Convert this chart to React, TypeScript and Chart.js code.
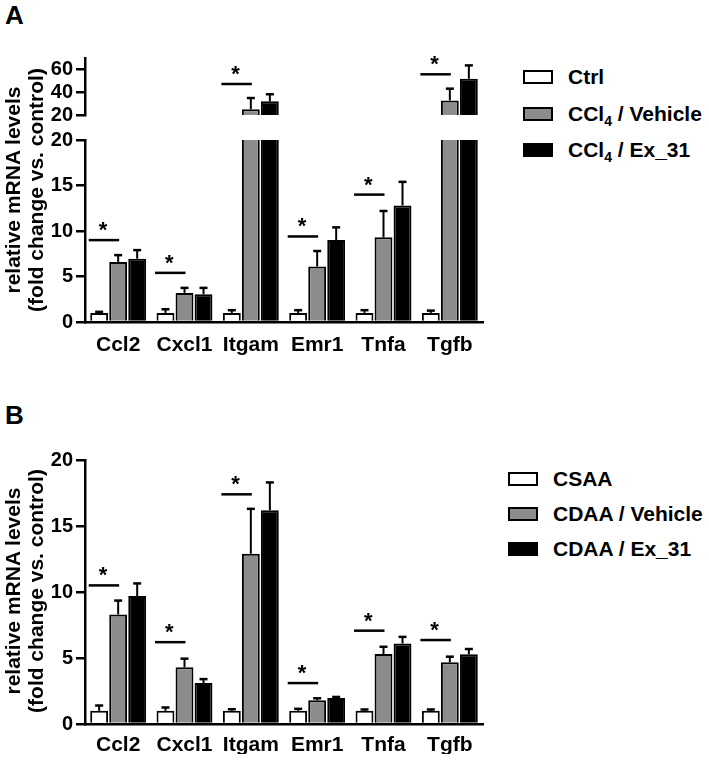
import React, { useEffect, useRef } from 'react';
import { Chart, registerables } from 'chart.js';

Chart.register(...registerables);

const FONT = 'Arial, "Liberation Sans", Helvetica, sans-serif';

// ---------- data ----------
const categories = ['Ccl2', 'Cxcl1', 'Itgam', 'Emr1', 'Tnfa', 'Tgfb'];

// Panel A (CCl4 model)
const ctrlA = [1.0, 1.0, 1.0, 1.0, 1.0, 1.0];
const ctrlAErr = [0.12, 0.4, 0.3, 0.3, 0.3, 0.25];
const vehA = [6.6, 3.2, 25.1, 6.1, 9.3, 32.8];
const vehAErr = [0.75, 0.55, 9.8, 1.7, 2.9, 10.3];
const exA = [6.95, 3.05, 32.0, 9.0, 12.8, 51.8];
const exAErr = [0.95, 0.7, 6.2, 1.4, 2.6, 11.7];
const sigA = [9.0, 5.4, 47.2, 9.4, 14.0, 55.7];

// Panel B (CDAA model)
const ctrlB = [1.0, 1.0, 1.0, 1.0, 1.0, 1.0];
const ctrlBErr = [0.4, 0.25, 0.12, 0.15, 0.1, 0.1];
const vehB = [8.3, 4.3, 12.9, 1.8, 5.3, 4.67];
const vehBErr = [1.05, 0.65, 3.4, 0.15, 0.55, 0.43];
const exB = [9.7, 3.1, 16.2, 1.97, 6.1, 5.28];
const exBErr = [0.95, 0.3, 2.1, 0.08, 0.5, 0.4];
const sigB = [10.5, 6.2, 17.4, 3.1, 7.07, 6.36];

const upperTicksA = [20, 40, 60];
const lowerTicks = [0, 5, 10, 15, 20];

const CAT_PCT = 0.86;
const BAR_PCT = 0.94;
const GRAY = '#8c8c8c';

// ---------- plugin: error bars + significance marks ----------
const errorSigPlugin = {
  id: 'errorSig',
  afterDatasetsDraw(chart: any, _args: any, opts: any) {
    const ctx = chart.ctx;
    const y = chart.scales.y;
    const x = chart.scales.x;
    ctx.save();
    ctx.strokeStyle = '#000';
    ctx.lineCap = 'butt';
    chart.data.datasets.forEach((ds: any, i: number) => {
      const meta = chart.getDatasetMeta(i);
      meta.data.forEach((el: any, j: number) => {
        const v = ds.data[j];
        if (v == null || v > y.max || v < y.min) return;
        const e = ds.errors[j];
        const top = y.getPixelForValue(v + e);
        const bx = el.x;
        ctx.lineWidth = 2;
        ctx.beginPath();
        ctx.moveTo(bx, el.y);
        ctx.lineTo(bx, top);
        ctx.stroke();
        ctx.lineWidth = 2.5;
        ctx.beginPath();
        ctx.moveTo(bx - 4, top);
        ctx.lineTo(bx + 4, top);
        ctx.stroke();
      });
    });
    const sig: (number | null)[] = opts.sig || [];
    const cw = x.width / categories.length;
    const slot = (cw * CAT_PCT) / 3;
    sig.forEach((s, j) => {
      if (s == null || s < y.min || s > y.max) return;
      const yy = y.getPixelForValue(s);
      const c = x.getPixelForValue(j);
      const x0 = c - 1.5 * slot + (slot * (1 - BAR_PCT)) / 2 - 1.5;
      const x1 = c + 1;
      ctx.lineWidth = 2.5;
      ctx.beginPath();
      ctx.moveTo(x0, yy);
      ctx.lineTo(x1, yy);
      ctx.stroke();
      ctx.fillStyle = '#000';
      ctx.font = `bold 22px ${FONT}`;
      ctx.textAlign = 'center';
      ctx.textBaseline = 'alphabetic';
      ctx.fillText('*', (x0 + x1) / 2 - 1, yy - 3);
    });
    ctx.restore();
  },
};

type ChartSpec = {
  ctrl: (number | null)[];
  veh: (number | null)[];
  ex: (number | null)[];
  ctrlErr: number[];
  vehErr: number[];
  exErr: number[];
  sig: (number | null)[];
  min: number;
  max: number;
  ticks: number[];
  showX: boolean;
  xHeight: number;
  xPad: number;
  padding: { top: number; bottom: number; left: number; right: number };
};

function makeConfig(s: ChartSpec): any {
  const font = { family: FONT, size: 21, weight: 'bold' as const };
  return {
    type: 'bar',
    data: {
      labels: categories,
      datasets: [
        { data: s.ctrl, errors: s.ctrlErr, backgroundColor: '#ffffff', borderColor: '#000', borderWidth: 2 },
        { data: s.veh, errors: s.vehErr, backgroundColor: GRAY, borderColor: '#000', borderWidth: 2 },
        { data: s.ex, errors: s.exErr, backgroundColor: '#000', borderColor: '#000', borderWidth: 2 },
      ],
    },
    options: {
      animation: false,
      responsive: false,
      maintainAspectRatio: false,
      layout: { padding: s.padding },
      datasets: { bar: { categoryPercentage: CAT_PCT, barPercentage: BAR_PCT, clip: 0 } },
      plugins: {
        legend: { display: false },
        tooltip: { enabled: false },
        title: { display: false },
        errorSig: { sig: s.sig },
      },
      scales: {
        x: {
          display: s.showX,
          grid: { display: false, drawTicks: false },
          border: { display: true, color: '#000', width: 2.5 },
          ticks: { font, color: '#000', padding: s.xPad, maxRotation: 0, autoSkip: false },
          afterFit: (sc: any) => {
            sc.height = s.xHeight;
          },
        },
        y: {
          min: s.min,
          max: s.max,
          afterBuildTicks: (sc: any) => {
            sc.ticks = s.ticks.map((v) => ({ value: v }));
          },
          grid: { display: true, drawOnChartArea: false, color: '#000', lineWidth: 2.5, tickLength: 9 },
          border: { display: true, color: '#000', width: 2.5 },
          ticks: { font: { ...font, size: 20 }, color: '#000', padding: 3 },
          afterFit: (sc: any) => {
            sc.width = 40;
          },
        },
      },
    },
    plugins: [errorSigPlugin],
  };
}

function ChartCanvas({ spec, left, top, width, height }: { spec: ChartSpec; left: number; top: number; width: number; height: number }) {
  const ref = useRef<HTMLCanvasElement | null>(null);
  useEffect(() => {
    if (!ref.current) return;
    const chart = new Chart(ref.current, makeConfig(spec));
    return () => chart.destroy();
  }, []);
  return <canvas ref={ref} width={width} height={height} style={{ position: 'absolute', left, top, width, height }} />;
}

function YTitle({ cx, cy }: { cx: number; cy: number }) {
  const W = 320;
  const H = 46;
  return (
    <div
      style={{
        position: 'absolute',
        left: cx - W / 2,
        top: cy - H / 2,
        width: W,
        height: H,
        transform: 'rotate(-90deg)',
        textAlign: 'center',
        font: `bold 21px ${FONT}`,
        lineHeight: '23px',
        whiteSpace: 'nowrap',
        color: '#000',
      }}
    >
      <div>relative mRNA levels</div>
      <div>(fold change vs. control)</div>
    </div>
  );
}

function Legend({ boxLeft, textLeft, centers, items }: { boxLeft: number; textLeft: number; centers: number[]; items: { fill: string; label: React.ReactNode }[] }) {
  return (
    <>
      {items.map((it, i) => (
        <React.Fragment key={i}>
          <div
            style={{
              position: 'absolute',
              left: boxLeft,
              top: centers[i] - 7,
              width: 30,
              height: 14,
              boxSizing: 'border-box',
              border: '2.5px solid #000',
              background: it.fill,
            }}
          />
          <div
            style={{
              position: 'absolute',
              left: textLeft,
              top: centers[i] - 12,
              height: 24,
              lineHeight: '24px',
              font: `bold 21px ${FONT}`,
              whiteSpace: 'nowrap',
              color: '#000',
            }}
          >
            {it.label}
          </div>
        </React.Fragment>
      ))}
    </>
  );
}

const Sub4 = () => (
  <span style={{ fontSize: 14, position: 'relative', top: 5, lineHeight: 0 }}>4</span>
);

export default function App() {
  useEffect(() => {
    document.body.style.margin = '0';
  }, []);

  const upperA: ChartSpec = {
    ctrl: ctrlA.map((v) => (v > 20 ? v : null)),
    veh: vehA.map((v) => (v > 20 ? v : null)),
    ex: exA.map((v) => (v > 20 ? v : null)),
    ctrlErr: ctrlAErr,
    vehErr: vehAErr,
    exErr: exAErr,
    sig: sigA.map((v) => (v > 20 ? v : null)),
    min: 20,
    max: 70,
    ticks: upperTicksA,
    showX: false,
    xHeight: 0,
    xPad: 0,
    padding: { top: 18, bottom: 11, left: 45, right: 17 },
  };
  const lowerA: ChartSpec = {
    ctrl: ctrlA,
    veh: vehA,
    ex: exA,
    ctrlErr: ctrlAErr,
    vehErr: vehAErr,
    exErr: exAErr,
    sig: sigA.map((v) => (v <= 20 ? v : null)),
    min: 0,
    max: 20,
    ticks: lowerTicks,
    showX: true,
    xHeight: 35,
    xPad: 11,
    padding: { top: 14, bottom: 8, left: 45, right: 17 },
  };
  const panelB: ChartSpec = {
    ctrl: ctrlB,
    veh: vehB,
    ex: exB,
    ctrlErr: ctrlBErr,
    vehErr: vehBErr,
    exErr: exBErr,
    sig: sigB,
    min: 0,
    max: 20,
    ticks: lowerTicks,
    showX: true,
    xHeight: 30,
    xPad: 9,
    padding: { top: 15, bottom: 8, left: 45, right: 17 },
  };

  return (
    <div style={{ position: 'absolute', left: 0, top: 0, width: 709, height: 762, background: '#fff', overflow: 'hidden' }}>
      <div style={{ position: 'absolute', left: 5, top: 2, font: `bold 26px ${FONT}`, lineHeight: '26px' }}>A</div>
      <div style={{ position: 'absolute', left: 5, top: 402, font: `bold 26px ${FONT}`, lineHeight: '26px' }}>B</div>

      <ChartCanvas spec={upperA} left={0} top={40} width={500} height={90} />
      <ChartCanvas spec={lowerA} left={0} top={125} width={500} height={240} />
      <ChartCanvas spec={panelB} left={0} top={445} width={500} height={317} />

      <YTitle cx={24} cy={190} />
      <YTitle cx={24} cy={591} />

      <Legend
        boxLeft={523}
        textLeft={568}
        centers={[77, 114, 150]}
        items={[
          { fill: '#fff', label: 'Ctrl' },
          { fill: GRAY, label: <>CCl<Sub4 /> / Vehicle</> },
          { fill: '#000', label: <>CCl<Sub4 /> / Ex_31</> },
        ]}
      />
      <Legend
        boxLeft={508}
        textLeft={553}
        centers={[479, 514, 549]}
        items={[
          { fill: '#fff', label: 'CSAA' },
          { fill: GRAY, label: 'CDAA / Vehicle' },
          { fill: '#000', label: 'CDAA / Ex_31' },
        ]}
      />
    </div>
  );
}
